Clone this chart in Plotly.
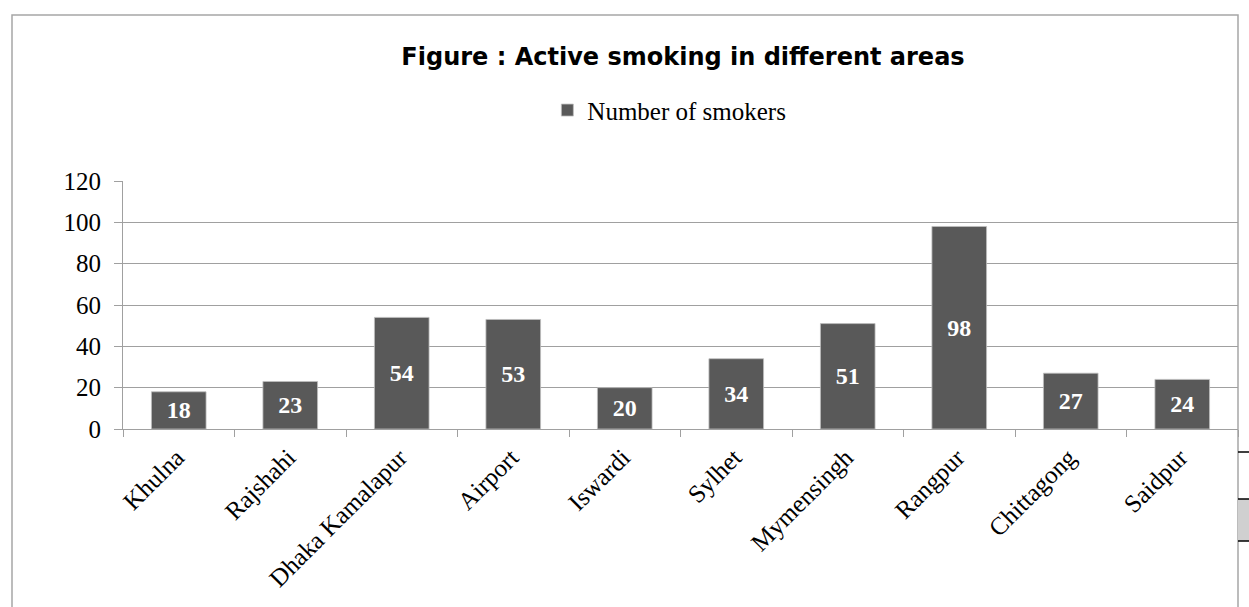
import plotly.graph_objects as go

categories = ["Khulna", "Rajshahi", "Dhaka Kamalapur", "Airport", "Iswardi",
              "Sylhet", "Mymensingh", "Rangpur", "Chittagong", "Saidpur"]
smokers = [18, 23, 54, 53, 20, 34, 51, 98, 27, 24]
series_name = "Number of smokers"
y_ticks = [0, 20, 40, 60, 80, 100, 120]

serif = "Liberation Serif, Times New Roman, serif"

fig = go.Figure()
fig.add_trace(go.Bar(
    x=categories, y=smokers, name=series_name,
    marker=dict(color="#595959", line=dict(color="#BFBFBF", width=0.8)),
    text=[str(v) for v in smokers], textposition="inside",
    insidetextanchor="middle", constraintext="none",
    textfont=dict(family=serif, size=24, color="white", weight="bold"),
    width=0.49,
))

fig.update_layout(
    width=1249, height=607,
    margin=dict(l=123, r=11, t=181, b=178),
    paper_bgcolor="white", plot_bgcolor="white",
    showlegend=True,
    title=dict(text="<b>Figure : Active smoking in different areas</b>",
               x=(683 / 1249), xanchor="center", y=1 - 57 / 607, yanchor="middle",
               font=dict(family="DejaVu Sans, sans-serif", size=24, color="black")),
    legend=dict(orientation="h", x=0.49, xanchor="center", y=1.285, yanchor="middle",
                font=dict(family=serif, size=25, color="black"),
                itemwidth=30, bgcolor="rgba(0,0,0,0)"),
    bargap=0.51,
)

fig.update_xaxes(
    type="category", showgrid=False, showline=True, linecolor="#A0A0A0", linewidth=1,
    ticks="outside", tickson="boundaries", ticklen=7, tickcolor="#A0A0A0",
    tickangle=-45, ticklabelstandoff=3, ticklabelshift=-2,
    tickfont=dict(family=serif, size=25, color="black"),
)
fig.update_yaxes(
    range=[0, 120], tickvals=y_ticks, showgrid=True, gridcolor="#A0A0A0", gridwidth=1,
    showline=True, linecolor="#A0A0A0", linewidth=1, zeroline=False,
    ticks="outside", ticklen=8, tickcolor="#A0A0A0", ticklabelstandoff=8,
    tickfont=dict(family=serif, size=25, color="black"),
)

# outer chart border
fig.add_shape(type="rect", xref="paper", yref="paper",
              x0=(12 - 123) / 1115, x1=1.0, y0=-0.9, y1=1 + (181 - 15) / 248,
              line=dict(color="#A6A6A6", width=1.5), fillcolor="rgba(0,0,0,0)", layer="below")
# page artifacts at right edge
fig.add_shape(type="rect", xref="paper", yref="paper",
              x0=1.0, x1=1.02, y0=(429 - 541) / 248, y1=(429 - 499) / 248,
              line=dict(width=0), fillcolor="#D0D0D0", layer="below")
for yy in (452, 499, 541):
    fig.add_shape(type="line", xref="paper", yref="paper",
                  x0=1.0, x1=1.02, y0=(429 - yy) / 248, y1=(429 - yy) / 248,
                  line=dict(color="black", width=1.5))

fig.write_html("out.html")
